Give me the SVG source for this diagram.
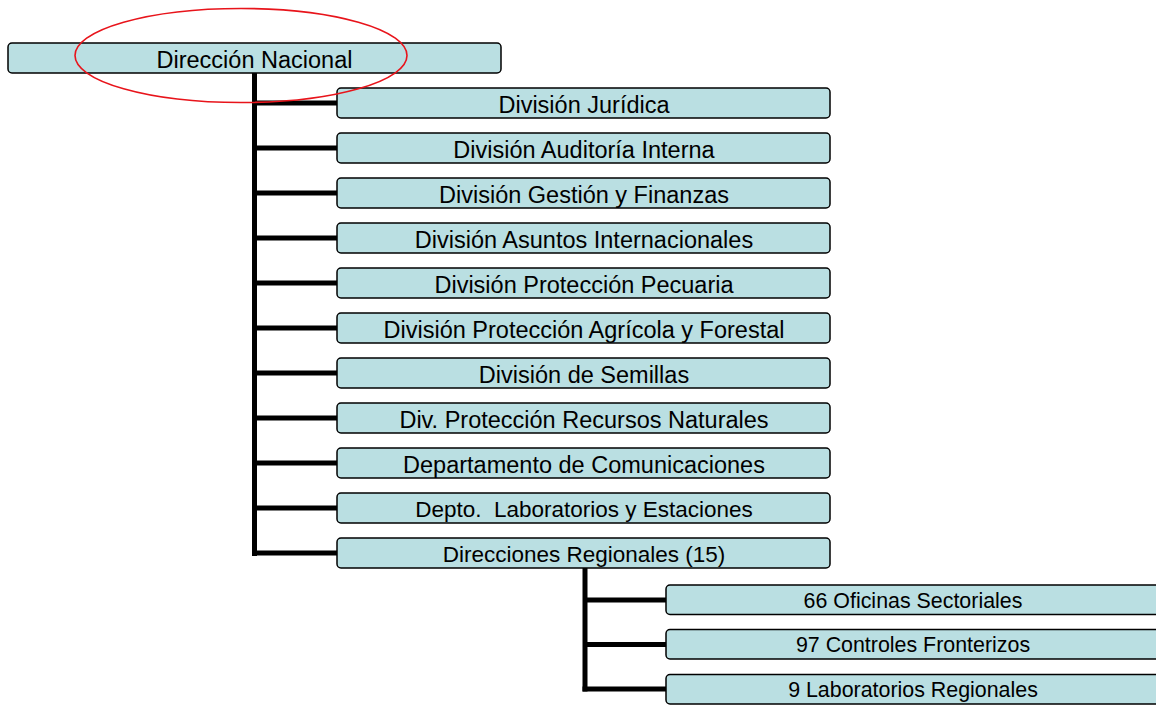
<svg xmlns="http://www.w3.org/2000/svg" width="1156" height="705" viewBox="0 0 1156 705">
<style>
.box{fill:#BADFE2;stroke:#000;stroke-width:1.5}
.t{font-family:"Liberation Sans",Arial,sans-serif;font-size:23.5px;fill:#000;text-anchor:middle}
.ts{font-family:"Liberation Sans",Arial,sans-serif;font-size:21.4px;fill:#000;text-anchor:middle}
.c{stroke:#000;stroke-width:5;fill:none}
</style>
<rect width="1156" height="705" fill="#fff"/>
<g id="connectors">
<path class="c" d="M254.5,73V556"/>
<path class="c" d="M254.5,103H337M254.5,148H337M254.5,193H337M254.5,238H337M254.5,283H337M254.5,328H337M254.5,373H337M254.5,418H337M254.5,463H337M254.5,508H337M252,553H337"/>
<path class="c" d="M585,568V691.5"/>
<path class="c" d="M585,600H666M585,644.5H666M582.5,689H666"/>
</g>
<g id="n0"><rect class="box" x="8" y="43" width="493" height="30" rx="4"/><text class="t" x="254.5" y="67.5">Dirección Nacional</text></g>
<g id="n1"><rect class="box" x="337" y="88" width="493" height="30" rx="4"/><text class="t" x="584" y="112.5">División Jurídica</text></g>
<g id="n2"><rect class="box" x="337" y="133" width="493" height="30" rx="4"/><text class="t" x="584" y="157.5">División Auditoría Interna</text></g>
<g id="n3"><rect class="box" x="337" y="178" width="493" height="30" rx="4"/><text class="t" x="584" y="202.5">División Gestión y Finanzas</text></g>
<g id="n4"><rect class="box" x="337" y="223" width="493" height="30" rx="4"/><text class="t" x="584" y="247.5">División Asuntos Internacionales</text></g>
<g id="n5"><rect class="box" x="337" y="268" width="493" height="30" rx="4"/><text class="t" x="584" y="292.5">División Protección Pecuaria</text></g>
<g id="n6"><rect class="box" x="337" y="313" width="493" height="30" rx="4"/><text class="t" x="584" y="337.5">División Protección Agrícola y Forestal</text></g>
<g id="n7"><rect class="box" x="337" y="358" width="493" height="30" rx="4"/><text class="t" x="584" y="382.5">División de Semillas</text></g>
<g id="n8"><rect class="box" x="337" y="403" width="493" height="30" rx="4"/><text class="t" x="584" y="427.5">Div. Protección Recursos Naturales</text></g>
<g id="n9"><rect class="box" x="337" y="448" width="493" height="30" rx="4"/><text class="t" x="584" y="472.5">Departamento de Comunicaciones</text></g>
<g id="n10"><rect class="box" x="337" y="493" width="493" height="30" rx="4"/><text class="t" x="584" y="517" style="font-size:22.5px" xml:space="preserve">Depto.  Laboratorios y Estaciones</text></g>
<g id="n11"><rect class="box" x="337" y="538" width="493" height="30" rx="4"/><text class="t" x="584" y="562" style="font-size:22.5px">Direcciones Regionales (15)</text></g>
<g id="n12"><rect class="box" x="666" y="585" width="493" height="29.5" rx="4"/><text class="ts" x="913" y="607.5">66 Oficinas Sectoriales</text></g>
<g id="n13"><rect class="box" x="666" y="629.5" width="493" height="29.5" rx="4"/><text class="ts" x="913" y="652">97 Controles Fronterizos</text></g>
<g id="n14"><rect class="box" x="666" y="674.5" width="493" height="29.5" rx="4"/><text class="ts" x="913" y="697">9 Laboratorios Regionales</text></g>
<ellipse id="highlight" cx="241" cy="55.5" rx="166" ry="47" fill="none" stroke="#E8141B" stroke-width="1.6"/>
</svg>
